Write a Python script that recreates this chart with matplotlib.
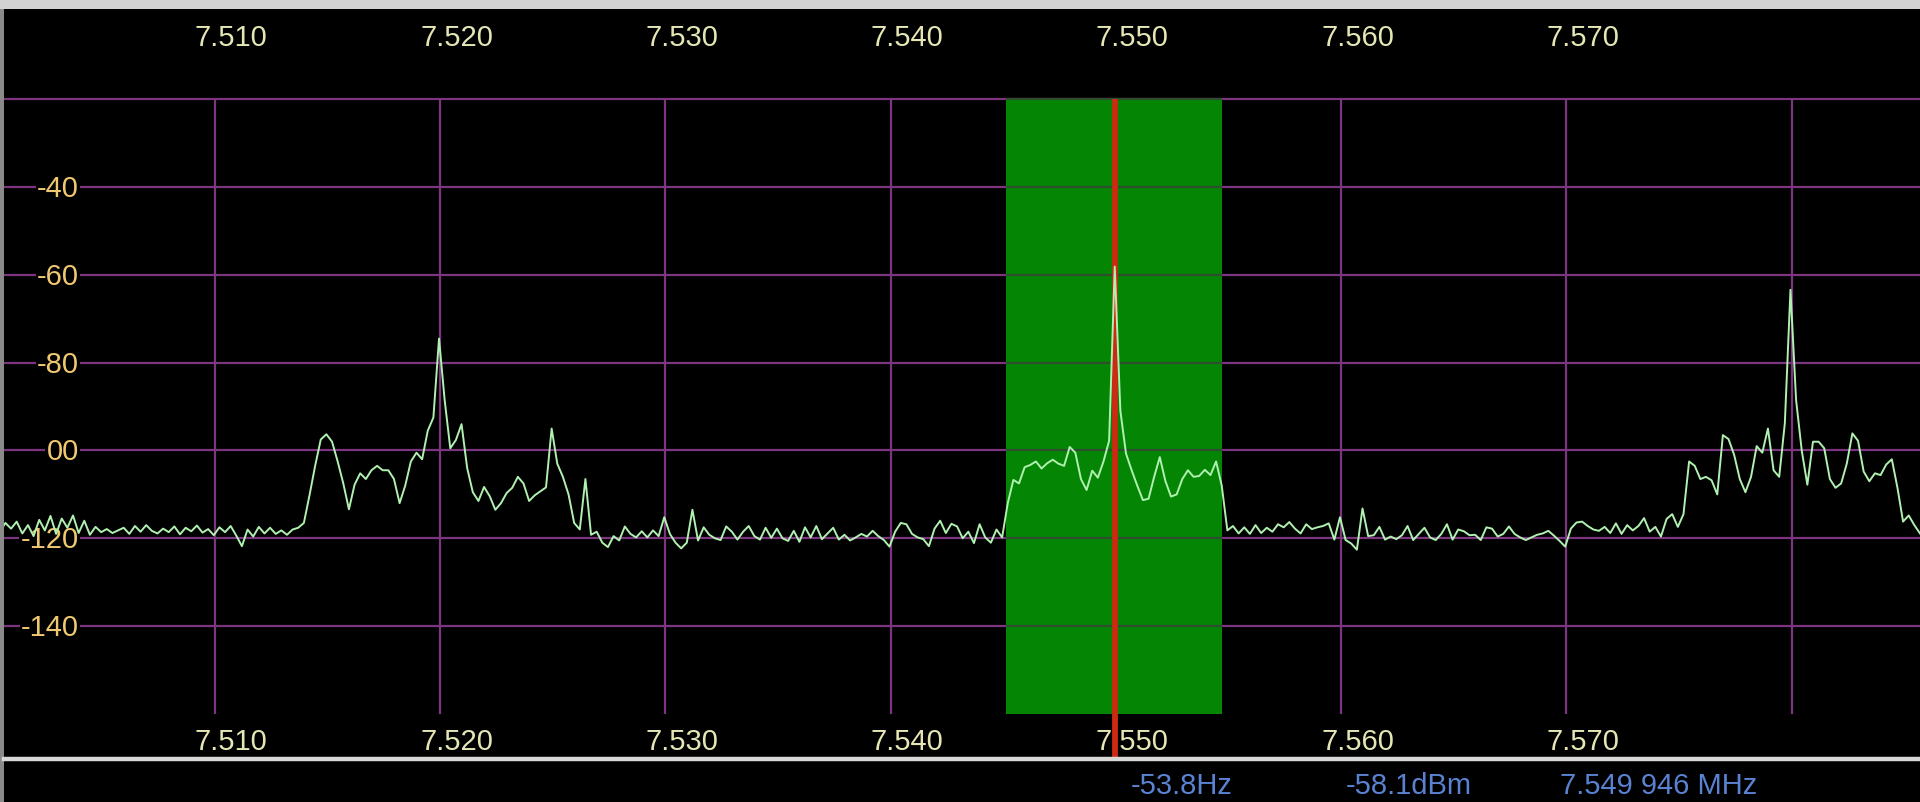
import numpy as np
import matplotlib
matplotlib.use('Agg')
import matplotlib.pyplot as plt
from matplotlib.patches import Rectangle
from matplotlib.lines import Line2D

plt.rcParams['font.family'] = ['Liberation Sans', 'DejaVu Sans']

# spectrum bins: start frequency and bin spacing (MHz)
BIN_START_MHZ = 7.500446
BIN_WIDTH_MHZ = 0.00025

# levels in dBm, bin by bin, left to right
noise_left = [
    -118.5, -116.5, -117.8, -116.2, -118.9, -117.0, -119.5, -115.8, -118.2, -114.9,
    -119.0, -115.5, -117.6, -114.8, -118.8, -116.0, -119.2,
    -117.4, -118.6, -117.9, -118.8, -118.2, -117.6, -119.0, -117.2, -118.5, -117.0,
    -118.3, -118.9, -117.8, -118.6, -117.3, -119.1, -117.6, -118.4, -117.1, -118.7,
    -117.9, -119.3, -117.5, -118.6, -117.2, -119.4, -121.8, -118.0, -119.6, -117.4,
    -118.9, -117.6, -119.0, -118.2, -119.2, -118.0, -117.6,
]
signal_a = [
    -116.5, -110.2, -103.5, -97.5, -96.3, -98.0, -102.5, -107.5, -113.4, -107.8,
    -105.2, -106.5, -104.5, -103.5, -104.5, -104.5, -106.5, -112.0, -108.0, -102.5,
    -100.5, -102.0, -95.5, -92.5, -74.5, -88.5, -99.5, -97.6, -94.0, -104.0,
    -109.5, -111.5, -108.3, -110.4, -113.5, -112.0, -109.7, -108.5, -106.0, -107.5,
    -111.5, -110.2, -109.3, -108.4, -95.0, -103.0, -106.0, -110.0, -116.5, -118.0,
    -106.5, -119.2, -118.5,
]
noise_mid = [
    -121.0, -122.0, -119.5, -120.5, -117.3, -119.0, -119.8, -118.4, -119.8, -118.2,
    -119.5, -115.2, -119.0, -121.0, -122.3, -121.0, -113.5, -120.5, -117.5, -119.2,
    -120.0, -120.4, -117.3, -118.5, -120.3, -118.5, -117.2, -119.5, -120.3, -117.6,
    -119.9, -117.8, -120.0, -120.6, -118.3, -120.8, -117.5, -119.8, -117.2, -120.2,
    -118.9, -117.6, -120.3, -119.2, -120.5, -119.8, -119.0, -119.6, -118.3, -119.5,
    -120.4, -121.9, -118.5, -116.5, -116.8, -119.0, -119.8, -120.2, -121.8, -117.8,
    -116.0, -118.8, -116.7, -117.3, -120.0, -118.5, -121.1, -116.8, -119.8, -121.0,
    -118.0, -119.8,
]
in_passband = [
    -112.0, -106.7, -107.5, -103.8, -103.3, -102.5, -104.1, -102.9, -102.1, -103.0,
    -103.5, -99.2, -100.5, -106.5, -109.0, -104.6, -106.2, -102.5, -97.8, -58.1,
    -91.0, -100.7, -104.5, -108.0, -111.3, -111.0, -106.0, -101.5, -107.0, -110.5,
    -110.0, -106.5, -104.5, -106.0, -105.8, -104.4, -105.6, -102.5, -108.0, -118.2,
]
noise_right = [
    -117.2, -118.9, -117.5, -119.0, -117.0, -118.8, -117.6, -118.5, -116.8, -117.5,
    -116.3, -117.8, -118.9, -116.8, -117.9, -117.5, -117.2, -116.6, -120.3, -115.2,
    -120.4, -121.2, -122.6, -113.2, -119.5, -119.3, -117.4, -120.3, -119.6, -120.2,
    -119.3, -117.2, -120.4, -119.0, -117.6, -119.8, -120.4, -119.0, -116.8, -120.3,
    -118.0, -118.4, -119.3, -119.2, -120.4, -117.5, -117.8, -119.6, -119.0, -117.3,
    -119.0, -119.8, -120.4, -119.8, -119.2, -118.9, -118.3, -119.4, -120.6, -121.9,
    -117.8, -116.4, -116.2, -117.2, -118.0, -118.3, -117.4, -118.8, -116.6, -119.0,
    -117.0, -118.2, -117.2, -115.4, -118.5, -117.4, -119.6, -115.6, -114.5, -117.4,
]
signal_b = [
    -114.5, -102.5, -103.5, -106.5, -106.0, -106.8, -110.0, -96.5, -97.4, -101.0,
    -106.5, -109.5, -106.0, -99.0, -100.5, -95.0, -104.5, -106.0, -93.8, -63.4,
    -88.5, -100.0, -107.8, -98.0, -98.0, -99.5, -106.5, -108.5, -107.5, -103.0,
    -96.1, -97.8, -104.8, -107.0, -105.2, -105.6, -103.2, -102.0, -108.5, -116.2,
    -114.8, -117.0, -118.9,
]

freq_ticks = [7.510, 7.520, 7.530, 7.540, 7.550, 7.560, 7.570, 7.580]
freq_labels = ['7.510', '7.520', '7.530', '7.540', '7.550', '7.560', '7.570']
level_grid = [-20, -40, -60, -80, -100, -120, -140]
level_ticks = [-40, -60, -80, -100, -120, -140]
level_labels = ['-40', '-60', '-80', '00', '-120', '-140']
GRID_BOTTOM = -160

PASSBAND_MHZ = (7.5451, 7.5547)
CURSOR_MHZ = 7.549946
TUNE_OFFSET_HZ = -53.8

levels_dbm = np.array(noise_left + signal_a + noise_mid + in_passband + noise_right + signal_b)
freqs_mhz = BIN_START_MHZ + BIN_WIDTH_MHZ * np.arange(len(levels_dbm))

W, H = 1920, 802
fig = plt.figure(figsize=(W / 100, H / 100), dpi=100, facecolor='black')
ax = fig.add_axes([0, 0, 1, 1])
ax.set_facecolor('black')
ax.set_xlim(7.500455, 7.585697)
ax.set_ylim(-180.07, 2.62)
ax.axis('off')

grid_col = '#7d3580'
ax.hlines(level_grid, 7.5, 7.59, color=grid_col, lw=1.6, zorder=2)
ax.vlines(freq_ticks, GRID_BOTTOM, -20, color=grid_col, lw=1.6, zorder=2)

# receiver passband
lo, hi = PASSBAND_MHZ
ax.add_patch(Rectangle((lo, GRID_BOTTOM), hi - lo, 140, fc='#048604', ec='none', zorder=2.5))
ax.hlines(level_grid, lo, hi, color='#2e4e2e', lw=1.6, zorder=2.6)

txt = dict(fontsize=21, textcoords='offset pixels', va='baseline')
xtr = ax.get_xaxis_transform()
for f, lab in zip(freq_ticks, freq_labels):
    for yf in (1 - 36 / H, 1 - 740 / H):
        ax.annotate(lab, xy=(f, yf), xycoords=xtr, xytext=(-20, -10),
                    ha='left', color='#e6e6b4', zorder=3, **txt)

ytr = ax.get_yaxis_transform()
for lvl, lab in zip(level_ticks, level_labels):
    ax.annotate(lab, xy=(79 / W, lvl), xycoords=ytr, xytext=(0, -10),
                ha='right', color='#f0c870', zorder=3,
                bbox=dict(boxstyle='square,pad=0.05', fc='black', ec='none'), **txt)

# tuning cursor
ax.vlines(CURSOR_MHZ, -170.3, -20, color='#cc2a12', lw=4.2, zorder=4)

ax.plot(freqs_mhz, levels_dbm, color='#b0f0b0', lw=1.4, zorder=5)

# frame: title strip, left edge, separator above the readout
fig.add_artist(Rectangle((0, 1 - 9 / H), 1, 9 / H, transform=fig.transFigure,
                         fc='#d2d2d2', ec='none', zorder=10))
fig.add_artist(Rectangle((0, 0), 4 / W, 1 - 9 / H, transform=fig.transFigure,
                         fc='#8a8a8a', ec='none', zorder=10))
fig.add_artist(Line2D([4 / W, 1], [1 - 759 / H] * 2, transform=fig.transFigure,
                      color='#d8d8d8', lw=3.2, zorder=10))

readout = [
    (1131, f'{TUNE_OFFSET_HZ:.1f}Hz'),
    (1346, f'{levels_dbm.max():.1f}dBm'),
    (1560, f'{CURSOR_MHZ:.6f}'[:5] + ' ' + f'{CURSOR_MHZ:.6f}'[5:] + ' MHz'),
]
for px, s in readout:
    fig.text(px / W, 1 - 786 / H, s, color='#5a82d2', fontsize=21,
             ha='left', va='center')

fig.savefig('out.png', dpi=100, facecolor='black')
